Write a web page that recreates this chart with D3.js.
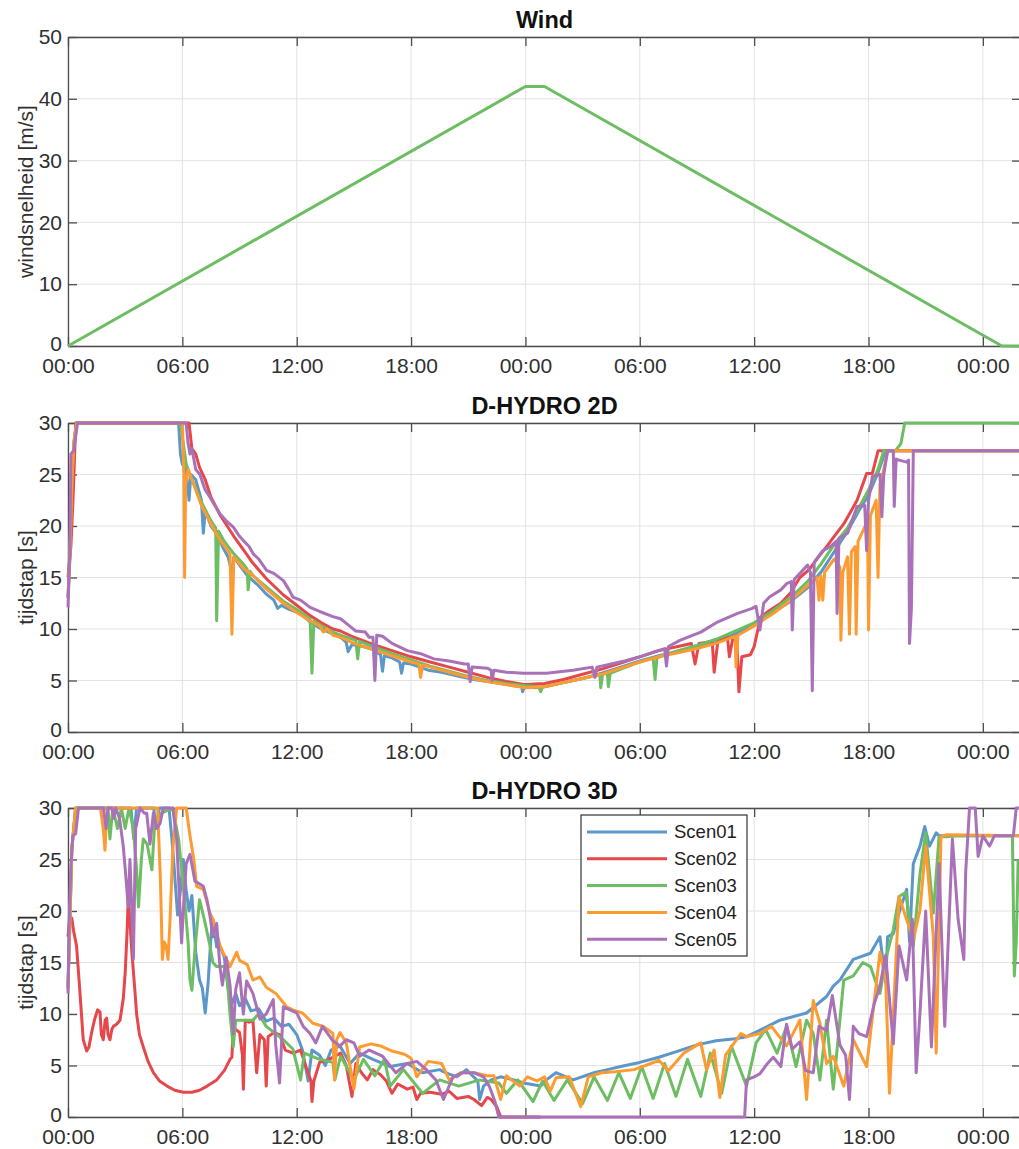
<!DOCTYPE html>
<html><head><meta charset="utf-8">
<script src="https://cdn.jsdelivr.net/npm/d3@7"></script>
<style>body{margin:0;background:#fff}</style>
</head><body>
<svg id="c" width="1019" height="1149"></svg>
<script>
// ---------- data ----------
const timeTickHours = [0, 6, 12, 18, 24, 30, 36, 42, 48];
const timeTickLabels = ["00:00", "06:00", "12:00", "18:00", "00:00", "06:00", "12:00", "18:00", "00:00"];
const windTicks = [0, 10, 20, 30, 40, 50];
const stepTicks = [0, 5, 10, 15, 20, 25, 30];
const panelTitles = ["Wind", "D-HYDRO 2D", "D-HYDRO 3D"];
const yLabels = ["windsnelheid [m/s]", "tijdstap [s]", "tijdstap [s]"];
const scenarioNames = ["Scen01", "Scen02", "Scen03", "Scen04", "Scen05"];
const scenarioColors = ["#5b97c9", "#e6474a", "#6dbd63", "#fd9b33", "#a971b8"];

const windHours = [0, 24, 25, 49, 50];
const windSpeed = [0, 42, 42, 0, 0];

// D-HYDRO 2D time step [hour, seconds]
const d2_scen01 = [[0,13],[0.1,17],[0.2,24],[0.3,28],[0.45,30],[5.8,30],[5.9,27],[6.0,26],[6.2,25.5],[6.35,22.5],[6.45,25],[6.7,24.5],[7.0,22.5],[7.1,19.3],[7.2,21.5],[7.5,20],[7.9,19],[8.1,18],[8.4,17],[8.6,15.5],[8.7,17],[9.0,16.2],[9.4,15.2],[9.7,14.7],[10.0,14.2],[10.4,13.4],[10.8,12.8],[11.0,12],[11.2,12.3],[11.6,11.9],[12.2,11.5],[12.7,10.7],[13.2,10.1],[13.9,9.5],[14.3,9.2],[14.6,8.7],[14.7,7.8],[14.9,8.5],[15.5,8.3],[16.0,8.0],[16.4,7.5],[16.5,5.9],[16.6,7.4],[17.0,7.2],[17.4,6.8],[17.5,5.7],[17.6,6.7],[18.0,6.6],[18.9,6.0],[19.6,5.8],[20.5,5.4],[21.3,5.1],[22.0,4.9],[22.7,4.7],[23.4,4.5],[23.8,4.4],[23.85,3.9],[23.95,4.4],[24.5,4.3],[25.0,4.4],[26.0,4.8],[27.0,5.2],[28.0,5.7],[29.0,6.3],[30.0,6.9],[31.0,7.4],[32.0,7.8],[33.0,8.2],[34.0,8.7],[35.0,9.5],[36.0,10.4],[37.0,11.6],[38.0,12.8],[38.8,14],[39.5,15.5],[40.2,17.5],[40.9,19.5],[41.5,21.5],[42.0,23],[42.5,25.2],[42.9,27.3],[50,27.3]];
const d2_scen02 = [[0,15],[0.15,18],[0.25,22],[0.35,27],[0.4,30],[6.35,30],[6.5,27.5],[6.7,27],[6.9,25.7],[7.2,24.5],[7.5,22.8],[8.0,21],[8.7,19],[9.2,17.7],[9.7,16.4],[10.4,14.9],[11.3,13.3],[12.0,12.3],[12.7,11.3],[13.3,10.6],[13.9,10.0],[14.3,9.8],[15.0,9.2],[16.0,8.5],[17.0,7.9],[18.0,7.3],[19.0,6.8],[20.0,6.3],[21.0,5.8],[22.0,5.3],[23.0,4.9],[24.0,4.6],[25.0,4.7],[26.0,5.1],[27.0,5.6],[28.0,6.1],[29.0,6.7],[30.0,7.3],[31.0,7.9],[32.0,8.3],[32.7,8.6],[32.9,6.6],[33.1,8.6],[33.8,8.8],[33.9,5.8],[34.1,8.9],[34.6,9.2],[34.7,7.3],[34.9,9.3],[35.1,8.5],[35.2,3.9],[35.35,7.3],[35.8,7.5],[36.0,8.3],[36.2,10],[36.3,11.1],[36.8,11.8],[37.4,12.5],[37.9,13.5],[38.4,15.0],[38.9,15.8],[39.3,16.8],[39.8,18.0],[40.2,19.0],[40.7,20.2],[41.1,21.5],[41.4,22.5],[41.9,25.1],[42.2,25.1],[42.5,27.3],[50,27.3]];
const d2_scen03 = [[0,13],[0.1,18],[0.2,24],[0.3,28],[0.45,30],[5.9,30],[6.05,28],[6.2,26],[6.5,24.5],[7.0,22.3],[7.5,20.5],[7.75,19.8],[7.8,10.8],[7.9,19.5],[8.2,18.5],[8.7,17.3],[9.2,16.3],[9.4,15.8],[9.45,13.8],[9.55,15.6],[9.7,15.2],[10.4,14.1],[11.3,12.7],[12.0,11.9],[12.7,11.0],[12.8,5.7],[12.9,10.8],[13.4,10.2],[13.9,9.7],[14.3,9.4],[15.1,8.9],[15.2,7.1],[15.3,8.8],[16.0,8.3],[17.0,7.6],[18.0,7.0],[19.0,6.4],[20.0,5.9],[21.0,5.4],[22.0,5.0],[23.0,4.7],[24.0,4.5],[24.7,4.4],[24.8,3.9],[24.9,4.4],[25.5,4.6],[26.5,5.0],[27.5,5.4],[27.9,5.6],[27.95,4.3],[28.05,5.6],[28.3,5.7],[28.35,4.4],[28.45,5.7],[29.0,6.1],[30.0,6.8],[30.7,7.2],[30.8,5.1],[30.9,7.2],[31.5,7.6],[32.0,7.9],[33.0,8.4],[34.0,9.0],[35.0,9.8],[36.0,10.6],[37.0,11.8],[38.0,13.2],[38.8,14.6],[39.5,16.3],[40.2,18.2],[40.9,19.8],[41.5,21.8],[42.0,23.5],[42.5,25.5],[42.8,27.3],[43.4,27.3],[43.7,28],[43.9,30],[50,30]];
const d2_scen04 = [[0,13],[0.1,17],[0.2,24],[0.3,28],[0.45,30],[6.0,30],[6.08,25],[6.12,15],[6.17,24],[6.3,25.5],[6.6,24],[7.0,22],[7.5,20.2],[8.0,18.6],[8.5,17.3],[8.6,9.5],[8.7,17],[9.2,15.9],[9.7,15.2],[10.4,13.9],[11.3,12.5],[12.0,11.6],[12.7,10.8],[13.2,10.3],[13.4,9.7],[13.6,10.0],[13.9,9.4],[14.3,9.2],[15.0,8.6],[16.0,8.0],[17.0,7.4],[18.0,6.8],[18.4,6.6],[18.5,5.3],[18.6,6.5],[19.0,6.3],[20.0,5.8],[21.0,5.3],[22.0,4.9],[23.0,4.6],[24.0,4.3],[25.0,4.4],[26.0,4.8],[27.0,5.2],[28.0,5.6],[29.0,6.2],[30.0,6.8],[31.0,7.3],[32.0,7.7],[33.0,8.1],[34.0,8.6],[35.0,9.3],[35.05,6.3],[35.15,9.4],[36.0,10.3],[37.0,11.5],[38.0,12.9],[38.8,14.2],[39.3,15],[39.4,12.8],[39.5,15.2],[39.6,12.8],[39.7,15.5],[40.2,16.8],[40.5,16],[40.55,8.9],[40.65,15.5],[40.9,17],[41.0,9.5],[41.1,17.5],[41.3,18],[41.35,9.5],[41.45,18.5],[41.7,19.5],[41.95,20.5],[42.0,9.9],[42.1,21],[42.4,22.5],[42.5,15.0],[42.6,24],[42.8,25.5],[43.0,27.3],[50,27.3]];
const d2_scen05 = [[0,12.1],[0.1,18],[0.15,27],[0.3,27.3],[0.5,30],[6.2,30],[6.3,28],[6.4,27],[6.5,27.5],[6.7,25.5],[6.92,25],[7.2,23.5],[7.45,22.8],[7.7,22],[7.97,21.2],[8.3,20.5],[8.67,19.9],[9.0,19],[9.2,18.6],[9.5,18],[9.72,17.3],[10.0,16.8],[10.42,15.7],[10.8,15.4],[11.3,14.7],[11.6,13.8],[11.8,13.1],[12.2,12.8],[12.7,12.1],[13.2,11.7],[13.9,11.2],[14.3,11.0],[15.1,9.8],[15.6,9.7],[15.8,9.2],[16.0,9.2],[16.1,5.0],[16.2,9.4],[16.5,9.3],[17.0,8.6],[17.8,7.9],[18.5,7.6],[19.2,7.1],[20.0,6.9],[20.8,6.6],[21.0,6.6],[21.1,4.9],[21.2,6.3],[22.0,6.2],[22.2,6.0],[22.25,5.0],[22.35,6.0],[23.0,5.8],[23.9,5.7],[25.1,5.7],[26.5,6.0],[27.5,6.3],[27.65,5.3],[27.75,6.3],[28.5,6.6],[29.2,6.9],[30.0,7.3],[30.8,7.8],[31.3,8.1],[31.4,6.4],[31.5,8.3],[32.1,8.9],[33.2,9.7],[34.1,10.7],[35.1,11.5],[35.9,12.0],[36.1,12.2],[36.3,9.9],[36.5,12.5],[36.8,13.1],[37.4,13.8],[37.7,14.4],[37.95,14.6],[38.0,9.9],[38.1,14.8],[38.4,15.4],[38.8,16.2],[38.95,15.5],[39.05,4.0],[39.15,16.5],[39.6,17.6],[40.0,18],[40.3,18.5],[40.35,11.5],[40.45,18.8],[40.9,19.3],[41.4,21.9],[41.8,22],[41.9,17.6],[42.0,22.5],[42.2,24.8],[42.6,25],[42.7,20.9],[42.8,25],[43.0,27.3],[43.3,27.3],[43.35,21.9],[43.45,26.5],[43.6,26.4],[44.0,26.2],[44.1,26.4],[44.15,8.6],[44.25,12],[44.35,27.3],[50,27.3]];

// D-HYDRO 3D time step [hour, seconds]
const d3_scen01 = [[0,12.5],[0.1,19],[0.2,26],[0.4,30],[3.3,30],[3.45,27],[3.6,30],[4.5,30],[4.6,28],[4.8,30],[5.3,30],[5.45,27],[5.55,24.7],[5.75,19.6],[5.9,22],[6.05,25],[6.2,22],[6.35,20],[6.5,21.5],[6.7,16],[6.9,13.3],[7.05,12.5],[7.2,10.1],[7.35,13],[7.5,17.5],[7.6,19.2],[7.8,16.5],[8.0,16.5],[8.2,15.5],[8.4,12.5],[8.6,11],[8.8,12],[9.0,10.8],[9.3,11.5],[9.6,10.3],[10.0,10.5],[10.4,9.3],[10.8,9.6],[11.2,8.8],[11.6,9],[12.0,8.0],[12.3,6.5],[12.5,4.5],[12.6,3.5],[12.8,6.5],[13.2,6.0],[13.5,5.0],[13.8,6.5],[14.27,6.9],[14.8,5.2],[15.3,6.2],[16.0,5.6],[16.9,4.9],[17.8,5.2],[18.6,4.3],[19.5,4.6],[19.8,4.3],[20.4,3.9],[20.9,4.6],[21.5,3.5],[21.6,1.7],[21.8,3.0],[22.2,3.6],[22.7,3.9],[23.4,3.6],[23.9,3.3],[24.8,3.0],[25.1,3.6],[25.6,4.3],[26.5,3.6],[27.6,4.3],[28.3,4.6],[29.0,4.9],[30.0,5.3],[31.0,5.8],[32.0,6.4],[33.0,7.0],[34.0,7.4],[35.0,7.6],[35.6,7.8],[36.5,8.6],[37.35,9.4],[38.75,10.1],[39.8,11.7],[40.15,12.7],[40.5,13.3],[41.2,15.3],[42.1,15.9],[42.6,17.5],[42.9,13],[43.0,17.5],[43.3,17.8],[43.6,19.8],[44.0,22.1],[44.15,17],[44.35,24.6],[44.7,26.3],[44.95,28.2],[45.2,26.3],[45.55,27.6],[45.7,27.3],[50,27.3]];
const d3_scen02 = [[0,17.5],[0.1,19.5],[0.2,19.3],[0.3,18],[0.45,16.6],[0.63,12.0],[0.8,7.5],[0.98,6.4],[1.1,6.8],[1.24,8.2],[1.4,9.5],[1.55,10.4],[1.68,10.2],[1.75,8],[1.85,7.5],[1.95,9.4],[2.03,9.6],[2.1,8],[2.2,7.5],[2.3,8.5],[2.38,8.8],[2.55,9],[2.73,9.4],[2.9,11.5],[3.0,14],[3.1,18],[3.16,21.2],[3.25,19],[3.35,16],[3.5,12.5],[3.6,10],[3.75,8],[3.95,6.8],[4.2,5.4],[4.48,4.3],[4.8,3.5],[5.2,3.0],[5.6,2.6],[6.05,2.4],[6.5,2.4],[6.9,2.6],[7.3,3.0],[7.8,3.6],[8.2,4.5],[8.5,5.6],[8.6,5.8],[8.67,8.8],[8.8,8.5],[9.0,8.2],[9.15,6],[9.2,2.7],[9.3,9.4],[9.5,9.2],[9.7,9.4],[9.9,4.3],[10.07,8.0],[10.3,7.5],[10.4,3.0],[10.5,7.8],[10.8,8.2],[11.1,8.0],[11.4,6.5],[11.8,6.2],[12.2,6.5],[12.5,4.8],[12.75,3.5],[12.8,1.5],[12.9,3.5],[13.2,5.3],[13.7,5.6],[14.3,6.2],[14.6,5],[14.9,2.0],[15.1,5.2],[15.4,4.3],[15.7,3.6],[16.0,4.6],[16.4,4.1],[16.7,3.5],[17.0,2.3],[17.3,3.2],[17.8,2.7],[18.1,2.9],[18.3,1.7],[18.5,2.3],[19.0,2.4],[19.6,2.2],[20.0,2.5],[20.4,1.8],[21.0,2.0],[21.3,1.7],[21.7,1.1],[22.0,1.9],[22.2,1.7],[22.5,1.0],[22.7,0],[24.8,0]];
const d3_scen03 = [[0,12.5],[0.1,19],[0.2,26],[0.4,30],[2.1,30],[2.2,27],[2.35,30],[2.6,28],[2.8,30],[3.0,28],[3.2,30],[3.43,28],[3.6,24],[3.7,20.4],[3.85,25],[3.95,27],[4.15,26.5],[4.4,24],[4.55,28.5],[4.9,29.5],[5.5,30],[5.8,27],[6.1,21.5],[6.3,17],[6.4,13.3],[6.5,12.3],[6.65,16],[6.9,21.1],[7.15,19.2],[7.45,16.6],[7.6,15],[7.8,14.6],[8.3,14.6],[8.5,10],[8.67,6.8],[8.8,9.4],[9.0,9.4],[9.7,9.4],[10.0,10],[10.4,8.8],[11.3,7.5],[11.8,6.6],[12.2,3.6],[12.4,6.2],[13.2,5.6],[13.9,5.3],[14.0,3.6],[14.3,5.9],[15.0,3.6],[15.5,5.6],[16.1,4.0],[16.6,5.6],[16.9,3.0],[17.6,4.6],[18.6,2.3],[19.5,3.6],[20.5,3.0],[21.6,3.6],[22.6,3.3],[23.0,2.3],[23.6,3.6],[24.4,1.5],[24.9,3.5],[25.5,1.6],[26.2,3.6],[27.0,1.3],[27.6,3.9],[28.3,1.6],[28.9,4.3],[29.5,1.8],[30.1,4.9],[30.7,1.8],[31.3,5.2],[31.9,2.0],[32.5,5.6],[33.2,2.0],[33.7,6.2],[34.3,2.3],[34.8,6.9],[35.6,3.0],[36.1,7.2],[36.6,8.5],[37.2,6.2],[37.7,8.8],[38.2,4.9],[38.75,9.4],[39.1,8.1],[39.45,3.6],[39.8,9.4],[40.15,2.7],[40.7,13.3],[41.2,13.7],[41.7,15.0],[42.1,14.6],[42.6,12.0],[42.9,15.3],[43.3,18.2],[43.6,21.4],[43.95,21.8],[44.35,16.6],[44.7,23.6],[45.0,27.6],[45.4,19.8],[45.7,27.2],[46.1,27.2],[46.6,27.3],[49.55,27.3],[49.65,13.7],[49.75,17],[49.85,25]];
const d3_scen04 = [[0,12.5],[0.1,19],[0.2,26],[0.4,30],[1.7,30],[1.85,28],[1.94,25.9],[2.05,30],[4.7,30],[4.85,23],[4.95,15.3],[5.05,17],[5.15,16.6],[5.25,15.3],[5.35,19],[5.5,26],[5.7,30],[6.2,30],[6.4,27.3],[6.6,25],[6.75,22.4],[7.1,22.1],[7.45,19.8],[7.6,19.2],[8.0,16.5],[8.5,14.6],[8.85,16.0],[9.0,15.2],[9.4,14.8],[9.7,13.3],[10.07,13.6],[10.4,12.6],[10.9,12.0],[11.47,10.7],[11.8,10.4],[12.3,10.1],[12.85,9.1],[13.4,8.8],[13.9,8.1],[13.98,3.6],[14.1,7.5],[14.27,8.2],[14.6,7.2],[15.0,2.7],[15.3,6.8],[15.9,7.1],[16.4,6.9],[17.0,6.4],[17.65,6.1],[18.0,5.7],[18.3,3.9],[18.9,5.4],[19.6,5.2],[20.0,3.6],[20.6,4.3],[21.3,4.3],[22.0,4.0],[22.35,4.0],[22.7,1.7],[23.0,4.0],[23.7,3.0],[24.1,3.9],[24.6,3.5],[25.0,3.9],[25.3,2.5],[25.6,3.8],[26.3,3.9],[26.9,1.0],[27.3,3.9],[28.0,4.3],[28.7,4.4],[29.7,4.6],[30.3,5.0],[31.0,5.5],[31.5,4.5],[32.3,6.2],[33.2,7.2],[33.5,4.6],[33.9,6.5],[34.2,1.9],[34.5,6.0],[35.3,8.1],[35.6,7.8],[36.3,8.1],[36.9,8.8],[37.7,6.9],[38.4,9.4],[38.75,1.7],[39.1,11.3],[39.45,9.1],[39.8,5.2],[40.15,5.9],[40.7,3.0],[41.2,7.5],[41.9,4.9],[42.6,16],[42.9,13.3],[43.1,2.3],[43.6,21.4],[44.35,17.2],[44.7,20.1],[45.0,26.3],[45.4,17.5],[45.55,6.2],[45.8,27.2],[46.1,27.4],[50,27.3]];
const d3_scen05 = [[0,12],[0.05,18.2],[0.15,24.3],[0.25,27.3],[0.4,27.5],[0.55,30],[1.85,30],[2.0,28],[2.1,30],[2.3,30],[2.4,29],[2.5,30],[2.7,29],[2.9,26.3],[3.05,23],[3.16,20.4],[3.25,25],[3.35,20],[3.43,15.3],[3.55,28],[3.78,30],[4.0,29.5],[4.13,29.5],[4.3,26.5],[4.48,29.5],[4.65,28],[4.83,28.5],[5.0,30],[5.5,30],[5.7,27],[5.96,16.9],[6.05,20],[6.2,24.6],[6.4,25.5],[6.66,22.9],[7.1,22.4],[7.3,21],[7.45,19.5],[7.6,17.5],[7.8,18.8],[7.97,14.6],[8.1,12.8],[8.3,15.5],[8.5,12.8],[8.67,8.1],[8.8,12.4],[9.0,14],[9.2,10],[9.37,13.2],[9.7,12.0],[10.07,9.5],[10.4,10.0],[10.77,11.4],[10.9,7.0],[11.1,3.3],[11.3,10.7],[11.65,10.4],[12.0,10.1],[12.34,8.8],[12.7,8.1],[13.0,7.2],[13.35,8.8],[13.9,7.4],[14.27,6.9],[14.6,7.5],[15.0,7.2],[15.3,5.9],[15.8,6.5],[16.5,5.9],[17.2,4.3],[17.8,5.2],[18.3,5.4],[18.8,4.6],[19.3,3.6],[19.7,1.7],[20.2,3.9],[20.7,4.3],[21.3,4.3],[21.8,3.9],[22.1,3.0],[22.4,1.5],[22.6,0],[35.5,0],[35.6,3.6],[36.0,3.9],[36.3,4.2],[36.7,5.2],[37.0,5.8],[37.4,4.9],[37.7,9.0],[38.0,6.6],[38.4,7.3],[38.7,4.5],[39.1,4.3],[39.4,8.8],[39.8,8.4],[40.1,11.8],[40.5,7.0],[40.8,6.0],[41.0,1.7],[41.2,8.8],[41.5,8.1],[41.9,7.8],[42.3,11],[42.6,12.7],[42.9,15.7],[43.3,7.1],[43.6,16.6],[44.0,13.3],[44.3,19.2],[44.5,4.3],[44.7,10.1],[45.0,20],[45.3,6.8],[45.7,24.6],[46.0,8.8],[46.4,27],[46.7,19.2],[47.0,15.3],[47.1,23.9],[47.3,30],[47.6,30],[47.75,25.3],[48.0,27.3],[48.35,26.3],[48.6,27.3],[49.6,27.3],[49.75,30],[50,30]];

// ---------- drawing ----------
const FONT = "'Liberation Sans', Arial, Helvetica, sans-serif";
const svg = d3.select("#c");
const x = d3.scaleLinear().domain([0, 50]).range([68, 1021]);

const panels = [
  { top: 37, bottom: 346, ymax: 50, ticks: windTicks,
    series: [{ data: windHours.map((h, i) => [h, windSpeed[i]]), color: scenarioColors[2] }] },
  { top: 423, bottom: 732, ymax: 30, ticks: stepTicks,
    series: [d2_scen01, d2_scen02, d2_scen03, d2_scen04, d2_scen05].map((d, i) => ({ data: d, color: scenarioColors[i] })) },
  { top: 808, bottom: 1117, ymax: 30, ticks: stepTicks, legend: true,
    series: [d3_scen01, d3_scen02, d3_scen03, d3_scen04, d3_scen05].map((d, i) => ({ data: d, color: scenarioColors[i] })) }
];

function styleAxis(g) {
  g.select(".domain").attr("stroke", "#4d4d4d").attr("stroke-width", 1.3);
  g.selectAll(".tick line").attr("stroke", "#4d4d4d").attr("stroke-width", 1.3);
  g.selectAll(".tick text").attr("font-family", FONT).attr("font-size", "21px").attr("fill", "#303030");
}

panels.forEach((p, pi) => {
  const y = d3.scaleLinear().domain([0, p.ymax]).range([p.bottom, p.top]);
  const g = svg.append("g");

  // grid
  g.append("g").selectAll("line").data(timeTickHours).join("line")
    .attr("x1", d => x(d)).attr("x2", d => x(d))
    .attr("y1", p.top).attr("y2", p.bottom)
    .attr("stroke", "#e3e3e3").attr("stroke-width", 1);
  g.append("g").selectAll("line").data(p.ticks).join("line")
    .attr("x1", x(0)).attr("x2", x(50))
    .attr("y1", d => y(d)).attr("y2", d => y(d))
    .attr("stroke", "#e3e3e3").attr("stroke-width", 1);

  // axes (ticks inward)
  g.append("g").attr("transform", `translate(0,${p.bottom})`)
    .call(d3.axisBottom(x).tickValues(timeTickHours).tickFormat((d, i) => timeTickLabels[i])
      .tickSize(-9).tickSizeOuter(0).tickPadding(12)).call(styleAxis);
  g.append("g").attr("transform", `translate(0,${p.top})`)
    .call(d3.axisTop(x).tickValues(timeTickHours).tickFormat("").tickSize(-9).tickSizeOuter(0)).call(styleAxis);
  const la = g.append("g").attr("transform", `translate(${x(0)},0)`)
    .call(d3.axisLeft(y).tickValues(p.ticks).tickFormat(d3.format("d"))
      .tickSize(-9).tickSizeOuter(0).tickPadding(6)).call(styleAxis);
  la.selectAll(".tick text").attr("dy", d => d === 0 ? "0.2em" : "0.32em");
  g.append("g").attr("transform", `translate(${x(50)},0)`)
    .call(d3.axisRight(y).tickValues(p.ticks).tickFormat("").tickSize(-9).tickSizeOuter(0)).call(styleAxis);

  // series
  const line = d3.line().x(d => x(d[0])).y(d => y(d[1]));
  p.series.forEach(s => {
    g.append("path").datum(s.data).attr("d", line)
      .attr("fill", "none").attr("stroke", s.color).attr("stroke-width", 3)
      .attr("stroke-linejoin", "round").attr("stroke-linecap", "butt");
  });

  // title
  g.append("text").attr("x", (x(0) + x(50)) / 2).attr("y", p.top - 9)
    .attr("text-anchor", "middle").attr("font-family", FONT)
    .attr("font-weight", "bold").attr("font-size", "23.5px").attr("fill", "#111")
    .text(panelTitles[pi]);

  // y label
  g.append("text").attr("transform", `translate(33,${(p.top + p.bottom) / 2}) rotate(-90)`)
    .attr("text-anchor", "middle").attr("font-family", FONT)
    .attr("font-size", "21px").attr("fill", "#303030")
    .text(yLabels[pi]);

  // legend
  if (p.legend) {
    const lg = g.append("g");
    lg.append("rect").attr("x", 581).attr("y", 815).attr("width", 166).attr("height", 141)
      .attr("fill", "#fff").attr("stroke", "#333").attr("stroke-width", 1.2);
    scenarioNames.forEach((name, i) => {
      const ly = 832 + i * 26.8;
      lg.append("line").attr("x1", 587).attr("x2", 667).attr("y1", ly).attr("y2", ly)
        .attr("stroke", scenarioColors[i]).attr("stroke-width", 3);
      lg.append("text").attr("x", 674).attr("y", ly).attr("dy", "0.35em")
        .attr("font-family", FONT).attr("font-size", "18.5px").attr("fill", "#222")
        .text(name);
    });
  }
});
</script>
</body></html>
